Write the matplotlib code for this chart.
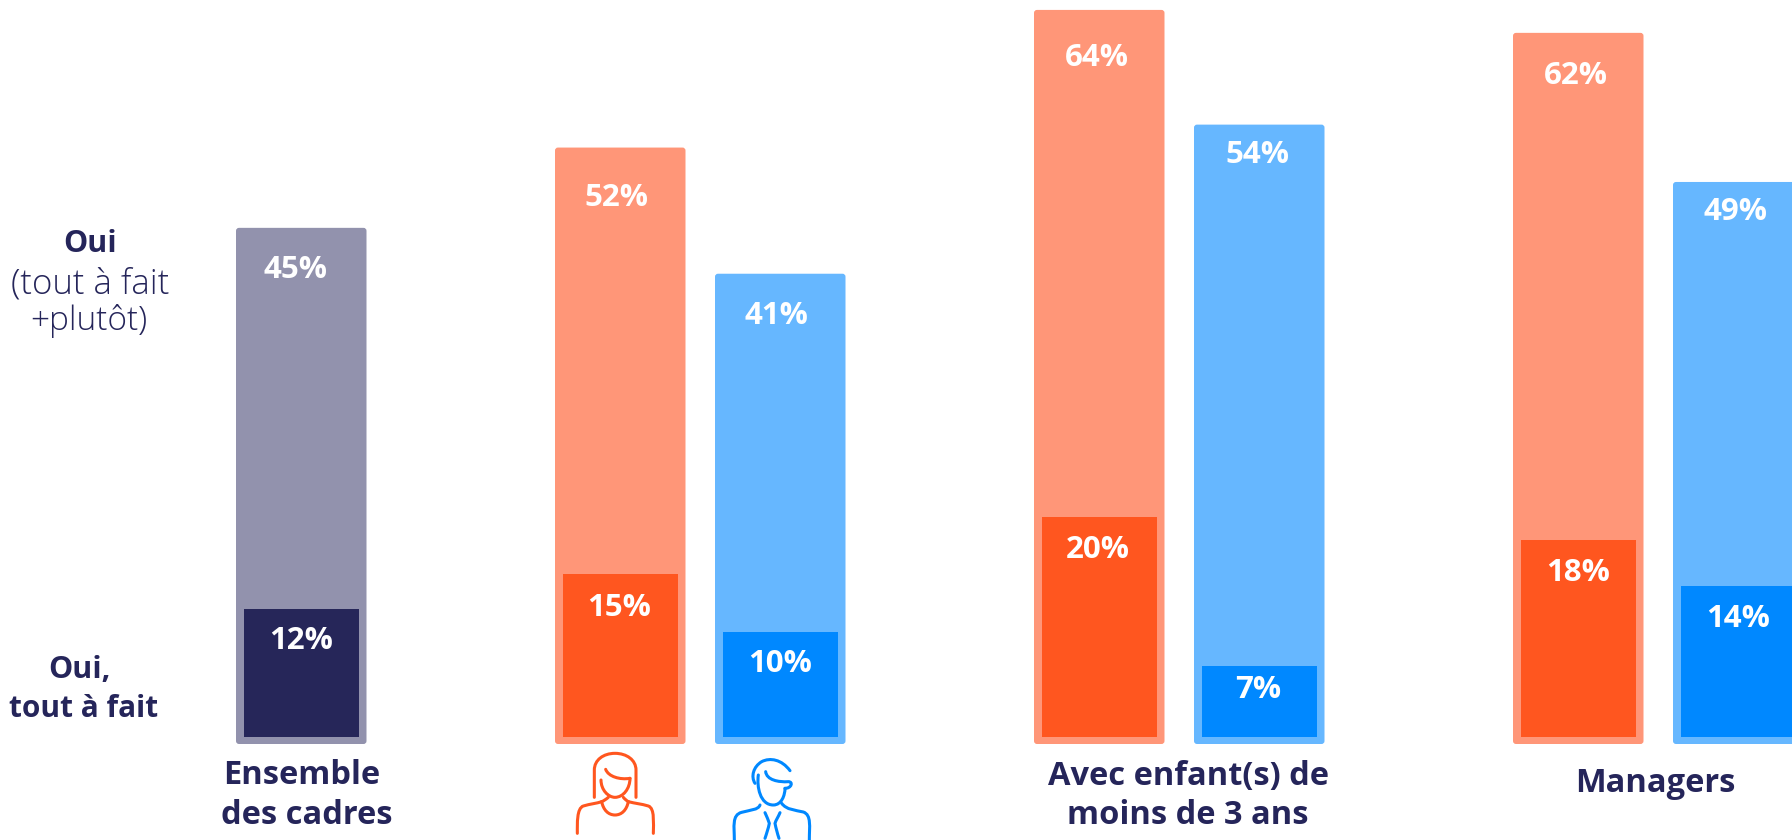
# cadres chart - bars with inner "tout a fait" part

import matplotlib
matplotlib.use('Agg')
import matplotlib.pyplot as plt
from matplotlib.patches import FancyBboxPatch, PathPatch
from matplotlib.path import Path

plt.rcParams['font.family'] = ['Open Sans', 'DejaVu Sans']

# values
oui_total = [45, 52, 41, 64, 54, 62, 49]
oui_tout_a_fait = [12, 15, 10, 20, 7, 18, 14]

group_lines = ['Ensemble', 'des cadres', 'Avec enfant(s) de', 'moins de 3 ans', 'Managers']

# colours per bar
light_cols = ['#9292AD', '#FF9678', '#66B7FF', '#FF9678', '#66B7FF', '#FF9678', '#66B7FF']
dark_cols = ['#262659', '#FF561F', '#0088FF', '#FF561F', '#0088FF', '#FF561F', '#0088FF']
navy = '#25255A'

# layout in pixels of the picture
bar_left = [236, 555, 715, 1034, 1194, 1513, 1673]
bar_w = 130.5
base_y = 744
px_per_pct = 11.47
inset_x = 8
inset_y = 7

fig = plt.figure(figsize=(17.92, 8.4), dpi=100)

# bars axes: x in pixels, y in percent
ax = fig.add_axes([0, 0, 1, 1])
ax.set_xlim(0, 1792)
ax.set_ylim(-(840 - base_y) / px_per_pct, base_y / px_per_pct)
ax.axis('off')

inset_pct = inset_y / px_per_pct
for i in range(len(oui_total)):
    # rounded corners need the aspect because x and y scales differ
    outer = FancyBboxPatch((bar_left[i], 0), bar_w, oui_total[i],
                           boxstyle='round,pad=0,rounding_size=3',
                           mutation_aspect=1 / px_per_pct,
                           fc=light_cols[i], ec='none')
    ax.add_patch(outer)
    ax.bar(bar_left[i] + inset_x, oui_tout_a_fait[i] - inset_pct - 0.2, bottom=inset_pct,
           width=bar_w - 2 * inset_x, align='edge', color=dark_cols[i])

# overlay in pixels for the text and icons, y going down
ov = fig.add_axes([0, 0, 1, 1])
ov.set_xlim(0, 1792)
ov.set_ylim(840, 0)
ov.axis('off')
ov.patch.set_alpha(0)

outer_lab_x = [295, 616, 776, 1097, 1257, 1576, 1735]
outer_lab_y = [270, 198, 316, 58, 155, 76, 212]
inner_lab_x = [301, 619, 780, 1098, 1258, 1578, 1738]
inner_lab_y = [641, 608, 664, 550, 690, 573, 619]

for i in range(len(oui_total)):
    ov.text(outer_lab_x[i], outer_lab_y[i], f'{oui_total[i]}%', color='white', fontsize=22.5,
            fontweight='bold', ha='center', va='center')
    ov.text(inner_lab_x[i], inner_lab_y[i], f'{oui_tout_a_fait[i]}%', color='white', fontsize=22.5,
            fontweight='bold', ha='center', va='center')

# left side labels
ov.text(90, 244, 'Oui', color=navy, fontsize=22, fontweight='bold', ha='center', va='center')
ov.text(90, 284, '(tout à fait', color=navy, fontsize=25, fontweight='light', ha='center', va='center')
ov.text(89, 321, '+plutôt)', color=navy, fontsize=24, fontweight='light', ha='center', va='center')
ov.text(80, 670, 'Oui,', color=navy, fontsize=22, fontweight='bold', ha='center', va='center')
ov.text(84, 709, 'tout à fait', color=navy, fontsize=21.5, fontweight='bold', ha='center', va='center')

# group labels
group_x = [302, 307, 1188, 1188, 1655]
group_y = [776, 815, 776, 815, 783]
for i in range(len(group_lines)):
    ov.text(group_x[i], group_y[i], group_lines[i], color=navy, fontsize=23.5, fontweight='bold',
            ha='center', va='center')


def draw_icon(parts, col):
    for part in parts:
        verts = [(540 + x / 3, 720 + y / 3) for x, y in part]
        if len(verts) % 3 == 1 and len(verts) > 2:
            codes = [Path.MOVETO] + [Path.CURVE4] * (len(verts) - 1)
        else:
            codes = [Path.MOVETO] + [Path.LINETO] * (len(verts) - 1)
        ov.add_patch(PathPatch(Path(verts, codes), fc='none', ec=col, lw=2.2, capstyle='round'))


woman = [
    [(163, 232), (163, 190), (163, 170), (163, 150), (163, 120), (190, 100), (225, 100),
     (260, 100), (288, 120), (288, 150), (288, 170), (288, 190), (288, 232)],
    [(197, 148), (205, 170), (240, 180), (270, 175)],
    [(183, 180), (183, 210), (205, 232), (225, 232), (250, 232), (270, 205), (270, 175)],
    [(185, 245), (190, 270), (205, 285), (225, 285), (245, 285), (260, 270), (265, 245)],
    [(112, 340), (112, 310), (110, 265), (130, 258), (150, 252), (170, 250), (185, 245)],
    [(265, 245), (285, 250), (305, 252), (325, 258), (345, 265), (340, 310), (340, 340)],
    [(205, 232), (198, 238), (192, 242), (185, 245)],
    [(250, 232), (255, 238), (260, 242), (265, 245)],
]
man = [
    [(750, 152), (725, 118), (690, 112), (665, 125), (640, 140), (632, 170), (645, 190)],
    [(655, 165), (650, 200), (660, 255), (700, 255), (725, 255), (735, 225), (735, 205)],
    [(677, 155), (680, 180), (715, 187), (745, 185), (760, 185), (755, 205), (735, 205)],
    [(660, 255), (655, 270), (630, 270), (605, 277), (575, 285), (583, 320), (583, 360)],
    [(725, 250), (740, 270), (765, 270), (790, 276), (815, 285), (808, 320), (808, 360)],
    [(675, 278), (680, 290), (685, 300), (688, 310), (685, 325), (680, 340), (675, 355)],
    [(720, 278), (715, 290), (708, 300), (705, 310), (708, 325), (712, 340), (717, 355)],
]
draw_icon(woman, dark_cols[1])
draw_icon(man, dark_cols[2])

fig.savefig('out.png', dpi=100)
